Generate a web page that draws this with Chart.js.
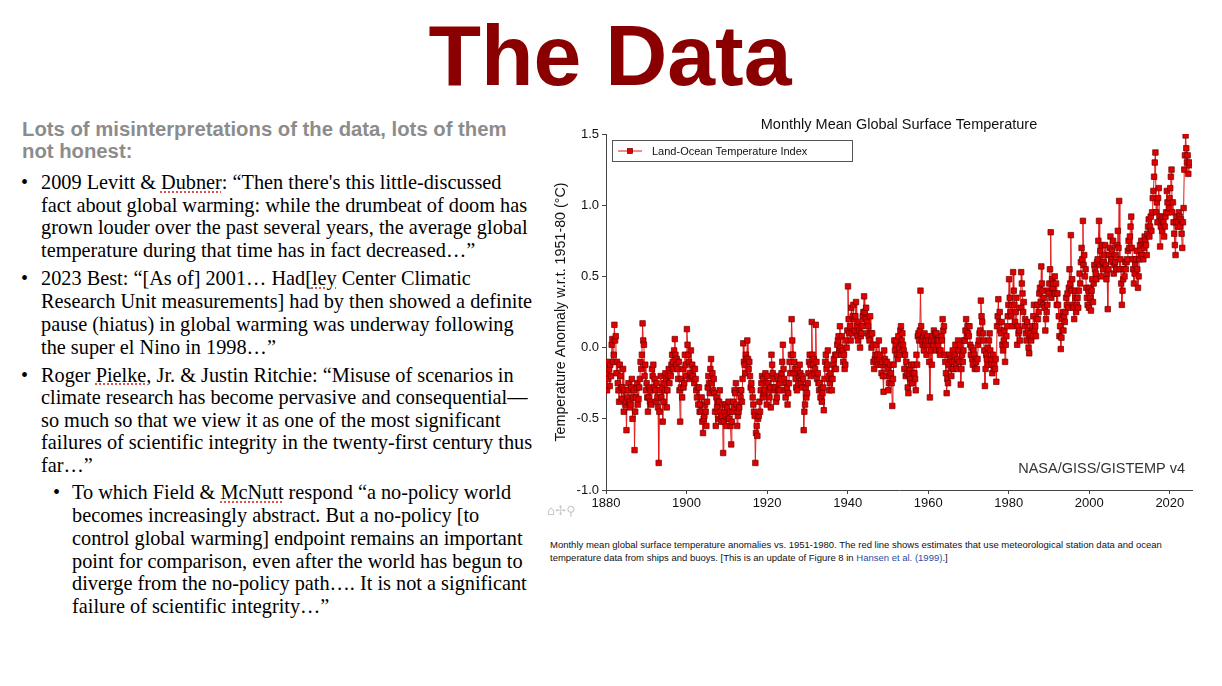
<!DOCTYPE html>
<html>
<head>
<meta charset="utf-8">
<title>The Data</title>
<script src="https://cdn.jsdelivr.net/npm/chart.js@4.4.1/dist/chart.umd.min.js"></script>
<style>
  html, body { margin: 0; padding: 0; background: #fff; }
  body { position: relative; width: 1222px; height: 686px; overflow: hidden; }
  .title { position: absolute; left: 0; width: 1220px; top: 12px; text-align: center;
           font: bold 86px/86px "Liberation Sans", Arial, Helvetica, sans-serif; color: #8a0000; }
  .head { position: absolute; left: 22px; font: bold 20.3px/20px "Liberation Sans", Arial, sans-serif;
          color: #8c8c8c; white-space: nowrap; }
  .ln { position: absolute; font: 20.3px/20px "Liberation Serif", "Times New Roman", serif;
        color: #000; white-space: nowrap; }
  .main { left: 41px; }
  .sub { left: 72px; }
  .dot { position: absolute; font: 20px/20px "Liberation Serif", serif; }
  .sp { text-decoration: underline dotted #e05050; text-decoration-thickness: 1.5px; text-underline-offset: 2px; }
  .cap { position: absolute; left: 550px; font: 9.5px/9.5px "Liberation Sans", Arial, sans-serif;
         color: #111; white-space: nowrap; }
  .cap a { color: #2b4ea6; text-decoration: none; }
  .tools { position: absolute; left: 547px; top: 504px; font: 13px/14px "DejaVu Sans", sans-serif; color: #c9c9c9; }
  #wrap { position: absolute; left: 545px; top: 100px; width: 660px; height: 430px; }
</style>
</head>
<body>
<div class="title">The Data</div>

<div class="head" style="top:118.6px">Lots of misinterpretations of the data, lots of them</div>
<div class="head" style="top:140.6px">not honest:</div>

<div class="dot" style="left:21px;top:172px">•</div>
<div class="ln main" style="top:172px">2009 Levitt &amp; <span class="sp">Dubner</span>: “Then there's this little-discussed</div>
<div class="ln main" style="top:194.5px">fact about global warming: while the drumbeat of doom has</div>
<div class="ln main" style="top:217px">grown louder over the past several years, the average global</div>
<div class="ln main" style="top:240px">temperature during that time has in fact decreased…”</div>

<div class="dot" style="left:21px;top:268px">•</div>
<div class="ln main" style="top:268px">2023 Best: “[As of] 2001… Had[<span class="sp">ley</span> Center Climatic</div>
<div class="ln main" style="top:291px">Research Unit measurements] had by then showed a definite</div>
<div class="ln main" style="top:314px">pause (hiatus) in global warming was underway following</div>
<div class="ln main" style="top:337px">the super el Nino in 1998…”</div>

<div class="dot" style="left:21px;top:364.5px">•</div>
<div class="ln main" style="top:364.5px">Roger <span class="sp">Pielke</span>, Jr. &amp; Justin Ritchie: “Misuse of scenarios in</div>
<div class="ln main" style="top:387px">climate research has become pervasive and consequential—</div>
<div class="ln main" style="top:409.5px">so much so that we view it as one of the most significant</div>
<div class="ln main" style="top:432px">failures of scientific integrity in the twenty-first century thus</div>
<div class="ln main" style="top:454.5px">far…”</div>

<div class="dot" style="left:53px;top:482px">•</div>
<div class="ln sub" style="top:482px">To which Field &amp; <span class="sp">McNutt</span> respond “a no-policy world</div>
<div class="ln sub" style="top:505px">becomes increasingly abstract. But a no-policy [to</div>
<div class="ln sub" style="top:528px">control global warming] endpoint remains an important</div>
<div class="ln sub" style="top:550.5px">point for comparison, even after the world has begun to</div>
<div class="ln sub" style="top:573px">diverge from the no-policy path…. It is not a significant</div>
<div class="ln sub" style="top:595.5px">failure of scientific integrity…”</div>

<div id="wrap"><canvas id="tempChart" width="660" height="430"></canvas></div>
<div class="tools">⌂✢⚲</div>

<div class="cap" style="top:539.5px">Monthly mean global surface temperature anomalies vs. 1951-1980. The red line shows estimates that use meteorological station data and ocean</div>
<div class="cap" style="top:552.5px">temperature data from ships and buoys. [This is an update of Figure 8 in <a>Hansen et al. (1999)</a>.]</div>

<script>
// Anomalies (°C vs 1951-80): 6 values per year (two-month steps), one row per year
const startYear = 1880;
const perYear = 6;

const anom1880 = [
  [-0.18, -0.30, -0.10, -0.22, -0.15, -0.27], [-0.12, -0.20, 0.02, 0.06, -0.10, -0.05],
  [0.16, 0.05, 0.08, -0.18, -0.10, -0.25], [-0.30, -0.38, -0.12, -0.20, -0.28, -0.36],
  [-0.28, -0.15, -0.45, -0.30, -0.40, -0.38], [-0.58, -0.35, -0.30, -0.25, -0.38, -0.42],
  [-0.40, -0.28, -0.22, -0.50, -0.35, -0.30], [-0.72, -0.45, -0.35, -0.28, -0.25, -0.40],
  [-0.36, -0.28, -0.22, -0.10, -0.15, -0.05], [0.17, 0.05, 0.02, -0.20, -0.12, -0.30],
  [-0.25, -0.35, -0.45, -0.35, -0.28, -0.38], [-0.30, -0.40, -0.15, -0.20, -0.12, -0.28],
  [-0.22, -0.30, -0.38, -0.25, -0.35, -0.42], [-0.81, -0.45, -0.30, -0.20, -0.35, -0.28],
  [-0.52, -0.38, -0.25, -0.30, -0.18, -0.22], [-0.42, -0.30, -0.20, -0.15, -0.25, -0.18],
  [-0.20, -0.12, -0.05, -0.10, -0.15, -0.02], [0.06, -0.05, -0.12, -0.08, -0.15, -0.22],
  [-0.10, -0.30, -0.52, -0.28, -0.22, -0.35], [-0.15, -0.28, -0.25, -0.05, -0.12, -0.20]
];
const anom1900 = [
  [0.13, 0.02, -0.05, -0.10, -0.22, -0.18], [-0.02, -0.20, -0.12, -0.20, -0.15, -0.25],
  [-0.15, -0.22, -0.30, -0.35, -0.28, -0.40], [-0.28, -0.45, -0.40, -0.45, -0.35, -0.52],
  [-0.60, -0.50, -0.48, -0.40, -0.45, -0.55], [-0.38, -0.28, -0.20, -0.25, -0.32, -0.15],
  [-0.08, -0.25, -0.18, -0.30, -0.22, -0.32], [-0.45, -0.55, -0.35, -0.42, -0.38, -0.50],
  [-0.38, -0.30, -0.45, -0.52, -0.48, -0.40], [-0.74, -0.52, -0.45, -0.40, -0.48, -0.55],
  [-0.42, -0.50, -0.38, -0.50, -0.45, -0.55], [-0.68, -0.52, -0.45, -0.38, -0.42, -0.30],
  [-0.32, -0.25, -0.40, -0.55, -0.48, -0.45], [-0.42, -0.30, -0.35, -0.30, -0.38, -0.22],
  [0.03, -0.10, -0.12, -0.18, -0.05, -0.08], [0.05, -0.08, -0.15, -0.10, -0.20, -0.28],
  [-0.25, -0.30, -0.35, -0.40, -0.45, -0.48], [-0.81, -0.60, -0.55, -0.62, -0.50, -0.48],
  [-0.38, -0.45, -0.30, -0.25, -0.20, -0.35], [-0.22, -0.32, -0.30, -0.18, -0.25, -0.40]
];
const anom1920 = [
  [-0.20, -0.25, -0.30, -0.35, -0.28, -0.42], [-0.05, -0.12, -0.18, -0.22, -0.28, -0.30],
  [-0.28, -0.38, -0.35, -0.20, -0.30, -0.25], [-0.30, -0.25, -0.22, -0.18, -0.10, 0.02],
  [-0.15, -0.22, -0.30, -0.35, -0.25, -0.28], [-0.40, -0.32, -0.25, -0.10, -0.18, -0.05],
  [0.20, 0.05, -0.05, -0.18, -0.10, -0.15], [-0.22, -0.28, -0.30, -0.15, -0.25, -0.20],
  [-0.12, -0.18, -0.25, -0.20, -0.28, -0.22], [-0.58, -0.45, -0.40, -0.28, -0.35, -0.32],
  [-0.25, -0.18, -0.10, -0.05, -0.12, -0.20], [0.18, -0.05, -0.12, -0.08, -0.18, -0.15],
  [0.16, -0.10, -0.22, -0.18, -0.25, -0.30], [-0.25, -0.35, -0.30, -0.38, -0.32, -0.28],
  [-0.44, -0.22, -0.10, -0.05, -0.15, -0.12], [-0.02, -0.20, -0.30, -0.25, -0.18, -0.22],
  [-0.30, -0.22, -0.12, -0.08, -0.15, -0.05], [-0.15, -0.05, 0.02, 0.05, 0.08, -0.02],
  [0.15, 0.00, -0.05, 0.08, -0.02, -0.10], [-0.05, -0.15, -0.12, 0.05, 0.00, 0.12]
];
const anom1940 = [
  [0.43, 0.20, 0.10, 0.15, 0.05, 0.28], [0.10, 0.22, 0.30, 0.20, 0.12, 0.22],
  [0.32, 0.15, 0.08, 0.05, 0.18, 0.12], [0.00, 0.08, 0.10, 0.15, 0.22, 0.25],
  [0.36, 0.25, 0.20, 0.28, 0.18, 0.10], [0.15, 0.08, 0.05, 0.22, 0.10, 0.00],
  [0.10, 0.02, -0.10, -0.15, -0.08, -0.05], [0.02, -0.10, -0.05, -0.12, 0.05, -0.08],
  [-0.05, -0.12, -0.18, -0.10, -0.20, -0.31], [-0.02, -0.08, -0.12, -0.20, -0.10, -0.15],
  [-0.30, -0.25, -0.20, -0.12, -0.18, -0.25], [-0.41, -0.22, -0.12, 0.05, -0.02, 0.02],
  [0.05, -0.05, -0.08, 0.08, 0.00, -0.05], [0.12, 0.15, 0.05, 0.10, 0.02, -0.02],
  [-0.15, -0.05, -0.20, -0.10, -0.18, -0.28], [-0.32, -0.20, -0.15, -0.22, -0.12, -0.25],
  [-0.25, -0.18, -0.12, -0.18, -0.22, -0.30], [-0.05, -0.12, 0.08, 0.10, 0.05, 0.12],
  [0.40, 0.15, 0.05, 0.02, 0.08, -0.02], [0.10, 0.02, 0.05, -0.05, 0.08, 0.02]
];
const anom1960 = [
  [0.05, -0.10, -0.35, -0.02, 0.05, -0.12], [0.08, 0.02, 0.12, 0.05, 0.10, -0.02],
  [0.10, 0.05, 0.02, 0.05, -0.02, -0.05], [-0.02, 0.08, 0.05, 0.20, 0.12, 0.15],
  [-0.05, -0.10, -0.18, -0.32, -0.22, -0.25], [-0.12, -0.05, -0.08, -0.15, -0.20, -0.10],
  [-0.02, -0.15, -0.10, -0.05, 0.02, -0.12], [-0.15, -0.08, 0.05, -0.02, -0.10, 0.02],
  [-0.26, -0.15, -0.05, -0.10, -0.02, 0.05], [0.05, 0.12, 0.20, 0.08, 0.15, 0.10],
  [0.08, 0.15, 0.02, -0.05, 0.00, -0.08], [-0.12, -0.02, -0.05, -0.15, -0.08, -0.10],
  [-0.15, -0.08, 0.02, 0.05, 0.10, 0.12], [0.33, 0.22, 0.18, 0.10, 0.05, -0.02],
  [-0.27, -0.15, -0.05, -0.08, 0.00, -0.12], [0.05, 0.10, -0.02, -0.08, -0.12, -0.18],
  [-0.05, -0.15, -0.12, -0.15, -0.08, -0.24], [0.15, 0.22, 0.34, 0.18, 0.25, 0.12],
  [0.10, 0.18, 0.02, -0.02, 0.05, 0.12], [-0.10, 0.02, 0.08, 0.15, 0.22, 0.30]
];
const anom1980 = [
  [0.48, 0.35, 0.25, 0.22, 0.30, 0.15], [0.53, 0.40, 0.30, 0.18, 0.25, 0.35],
  [0.02, 0.15, 0.10, 0.12, 0.05, 0.28], [0.53, 0.45, 0.38, 0.25, 0.32, 0.15],
  [0.20, 0.10, 0.05, 0.18, 0.12, 0.00], [-0.04, 0.08, 0.10, 0.05, 0.15, 0.08],
  [0.22, 0.30, 0.12, 0.15, 0.08, 0.20], [0.30, 0.20, 0.25, 0.38, 0.42, 0.32],
  [0.57, 0.45, 0.40, 0.30, 0.35, 0.28], [0.12, 0.20, 0.25, 0.30, 0.40, 0.38],
  [0.45, 0.55, 0.81, 0.35, 0.48, 0.42], [0.45, 0.38, 0.50, 0.38, 0.45, 0.30],
  [0.38, 0.30, 0.22, 0.08, 0.15, -0.01], [0.07, 0.20, 0.25, 0.12, 0.22, 0.18],
  [0.25, 0.35, 0.30, 0.38, 0.28, 0.42], [0.55, 0.45, 0.79, 0.40, 0.48, 0.30],
  [0.28, 0.20, 0.40, 0.35, 0.25, 0.30], [0.35, 0.28, 0.40, 0.52, 0.45, 0.60],
  [0.70, 0.62, 0.89, 0.58, 0.65, 0.50], [0.55, 0.42, 0.35, 0.30, 0.40, 0.28]
];
const anom2000 = [
  [0.42, 0.35, 0.26, 0.40, 0.48, 0.32], [0.45, 0.58, 0.55, 0.52, 0.48, 0.60],
  [0.62, 0.75, 0.89, 0.58, 0.68, 0.50], [0.72, 0.60, 0.55, 0.60, 0.65, 0.72],
  [0.58, 0.48, 0.52, 0.27, 0.55, 0.65], [0.70, 0.78, 0.62, 0.68, 0.60, 0.75],
  [0.52, 0.58, 0.60, 0.65, 0.55, 0.72], [0.82, 0.70, 1.03, 0.55, 0.62, 0.45],
  [0.30, 0.40, 0.48, 0.55, 0.50, 0.60], [0.55, 0.60, 0.62, 0.68, 0.75, 0.70],
  [0.78, 0.85, 0.92, 0.70, 0.62, 0.55], [0.45, 0.52, 0.58, 0.62, 0.68, 0.55],
  [0.42, 0.50, 0.62, 0.72, 0.65, 0.75], [0.65, 0.72, 0.62, 0.70, 0.78, 0.75],
  [0.72, 0.65, 0.80, 0.85, 0.90, 0.78], [0.85, 0.92, 0.82, 0.95, 1.05, 1.10],
  [1.20, 1.30, 1.37, 0.95, 1.02, 0.88], [1.05, 1.12, 0.92, 0.71, 0.85, 0.90],
  [0.82, 0.92, 0.88, 0.78, 0.85, 0.92], [0.95, 1.10, 1.02, 0.95, 0.98, 1.05]
];
const anom2020 = [
  [1.12, 1.20, 1.25, 0.95, 1.02, 0.88], [0.80, 0.72, 0.65, 0.88, 0.92, 0.85],
  [0.88, 0.95, 0.92, 0.85, 0.90, 0.80], [0.70, 0.88, 0.98, 1.25, 1.35, 1.49],
  [1.40, 1.30, 1.35, 1.22, 1.28, 1.30]
];

const xTickYears = [1880, 1900, 1920, 1940, 1960, 1980, 2000, 2020];
const yTickValues = [-1.0, -0.5, 0.0, 0.5, 1.0, 1.5];

const seriesLabel = 'Land-Ocean Temperature Index';
const chartTitle = 'Monthly Mean Global Surface Temperature';
const sourceNote = 'NASA/GISS/GISTEMP v4';

// Construire les points (x = année décimale)
const points = [];
[anom1880, anom1900, anom1920, anom1940, anom1960, anom1980, anom2000, anom2020].flat()
  .forEach((yr, i) => yr.forEach((v, k) => points.push({ x: startYear + i + (k + 0.5) / perYear, y: v })));

const sans = '"Liberation Sans", Arial, Helvetica, sans-serif';
Chart.defaults.font.family = sans;

// Titre, légende encadrée et source dessinés dans la zone du graphique
const overlay = {
  id: 'overlay',
  afterDraw(chart) {
    const { ctx, chartArea: a } = chart;
    const ds = chart.data.datasets[0];
    ctx.save();
    ctx.fillStyle = '#111';
    ctx.textBaseline = 'middle';
    ctx.font = '14.5px ' + sans;
    ctx.textAlign = 'center';
    ctx.fillText(chartTitle, (a.left + a.right) / 2, a.top - 9);

    // legend box
    const bx = a.left + 6, by = a.top + 6;
    ctx.strokeStyle = '#555';
    ctx.lineWidth = 1;
    ctx.strokeRect(bx + 0.5, by + 0.5, 240, 21);
    const ly = by + 11;
    ctx.strokeStyle = ds.borderColor;
    ctx.beginPath();
    ctx.moveTo(bx + 6, ly);
    ctx.lineTo(bx + 30, ly);
    ctx.stroke();
    ctx.fillStyle = ds.pointBackgroundColor;
    ctx.fillRect(bx + 15.5, ly - 2.5, 5, 5);
    ctx.strokeStyle = ds.pointBorderColor;
    ctx.lineWidth = 0.7;
    ctx.strokeRect(bx + 15.5, ly - 2.5, 5, 5);
    ctx.fillStyle = '#111';
    ctx.textAlign = 'left';
    ctx.font = '11px ' + sans;
    ctx.fillText(ds.label, bx + 40, ly + 0.5);

    ctx.fillStyle = '#333';
    ctx.textAlign = 'right';
    ctx.font = '14.5px ' + sans;
    ctx.fillText(sourceNote, a.right - 7, a.bottom - 21);
    ctx.restore();
  }
};

const ctx = document.getElementById('tempChart').getContext('2d');
const tempChart = new Chart(ctx, {
  type: 'line',
  data: {
    datasets: [{
      label: seriesLabel,
      data: points,
      borderColor: '#e31b1b',
      borderWidth: 1,
      pointStyle: 'rect',
      pointRadius: 3.9,
      pointBackgroundColor: '#e00000',
      pointBorderColor: '#6e0000',
      pointBorderWidth: 0.7,
      tension: 0
    }]
  },
  options: {
    responsive: false,
    animation: false,
    layout: { padding: { top: 34, right: 13, left: 0, bottom: 0 } },
    plugins: {
      legend: { display: false },
      title: { display: false },
      tooltip: { enabled: false }
    },
    scales: {
      x: {
        type: 'linear',
        min: 1880,
        max: 2025.5,
        afterBuildTicks: s => { s.ticks = xTickYears.map(v => ({ value: v })); },
        afterFit: s => { s.height = 40; },
        border: { color: '#444' },
        grid: { drawOnChartArea: false, tickLength: 4, color: '#444' },
        ticks: { color: '#111', font: { size: 13 }, padding: 2, maxRotation: 0, autoSkip: false, callback: v => String(v) }
      },
      y: {
        min: -1.0,
        max: 1.5,
        afterBuildTicks: s => { s.ticks = yTickValues.map(v => ({ value: v })); },
        afterFit: s => { s.width = 61; },
        border: { color: '#444' },
        grid: { drawOnChartArea: false, tickLength: 4, color: '#444' },
        ticks: { color: '#111', font: { size: 13 }, padding: 3, callback: v => Number(v).toFixed(1) },
        title: {
          display: true,
          text: 'Temperature Anomaly w.r.t. 1951-80 (°C)',
          color: '#111',
          font: { size: 14.3 },
          padding: { top: 7, bottom: 0 }
        }
      }
    }
  },
  plugins: [overlay]
});
</script>
</body>
</html>
